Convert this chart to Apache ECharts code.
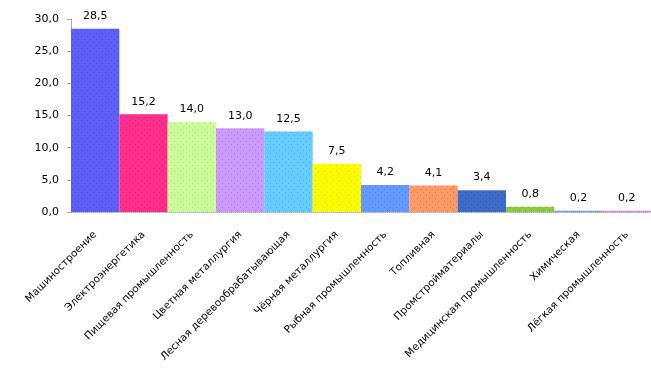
<!DOCTYPE html>
<html>
<head>
<meta charset="utf-8">
<script src="https://cdn.jsdelivr.net/npm/echarts@6/dist/echarts.min.js"></script>
<style>
  html, body { margin: 0; padding: 0; background: #fff; }
  #main { width: 651px; height: 376px; }
</style>
</head>
<body>
<div id="main"></div>
<script>
const categories = [
    "Машиностроение",
    "Электроэнергетика",
    "Пищевая промышленность",
    "Цветная металлургия",
    "Лесная деревообрабатывающая",
    "Чёрная металлургия",
    "Рыбная промышленность",
    "Топливная",
    "Промстройматериалы",
    "Медицинская промышленность",
    "Химическая",
    "Лёгкая промышленность",
];
const values = [28.5, 15.2, 14.0, 13.0, 12.5, 7.5, 4.2, 4.1, 3.4, 0.8, 0.2, 0.2];
const yTicks = [0, 5, 10, 15, 20, 25, 30];

const colors = ["#5f5ff7", "#ff2e8c", "#ccff99", "#cc99ff", "#66ccff", "#ffff00",
    "#6699ff", "#ff9966", "#3a6cc8", "#8ccc44", "#7a9ae0", "#e08ad8"];

const fmt = (v) => v.toFixed(1).replace(".", ",");
const font = "DejaVu Sans";

// dotted fill, like the office "small dots" pattern
const dots = {
    symbol: "rect",
    symbolSize: 1,
    color: "rgba(0,0,0,0.18)",
    dashArrayX: [[1, 5], [0, 3, 1, 2]],
    dashArrayY: [1, 2],
};

const chart = echarts.init(document.getElementById("main"));
chart.setOption({
    animation: false,
    grid: { left: 71, right: 0, top: 19, bottom: 164, containLabel: false },
    xAxis: {
        type: "category",
        data: categories,
        axisLine: { lineStyle: { color: "#aaaaaa", type: "dotted" } },
        axisTick: { show: false },
        axisLabel: {
            interval: 0,
            rotate: 45,
            margin: 21,
            color: "#000",
            fontFamily: font,
            fontSize: 10.4,
        },
    },
    yAxis: {
        type: "value",
        min: yTicks[0],
        max: yTicks[yTicks.length - 1],
        interval: 5,
        axisLine: { show: true, lineStyle: { color: "#aaaaaa" } },
        axisTick: { show: true, length: 4, lineStyle: { color: "#aaaaaa" } },
        splitLine: { show: false },
        axisLabel: {
            formatter: fmt,
            color: "#000",
            fontFamily: font,
            fontSize: 11,
            margin: 12,
        },
    },
    series: [{
        type: "bar",
        data: values.map((v, i) => ({
            value: v,
            itemStyle: { color: colors[i], decal: dots },
        })),
        barCategoryGap: "0%",
        label: {
            show: true,
            position: "top",
            distance: 7,
            formatter: (p) => fmt(p.value),
            color: "#000",
            fontFamily: font,
            fontSize: 11,
        },
    }],
});
</script>
</body>
</html>
